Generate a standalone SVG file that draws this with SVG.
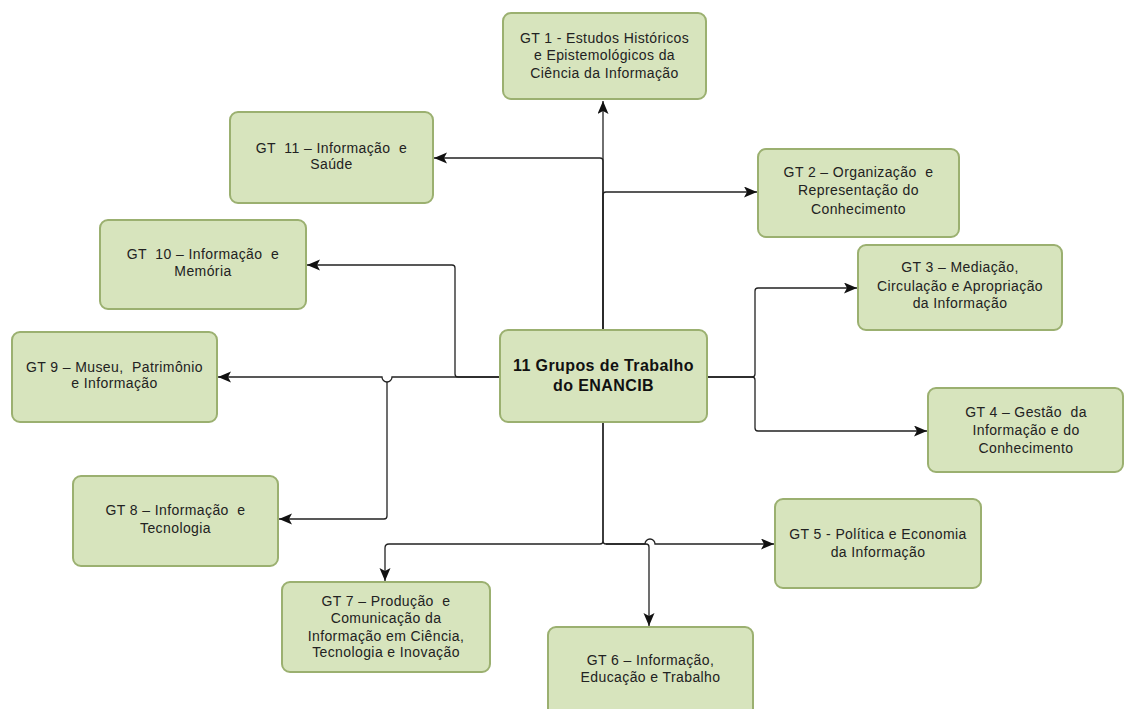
<svg xmlns="http://www.w3.org/2000/svg" width="1124" height="709" viewBox="0 0 1124 709">
<style>
.box{fill:#d7e4bd;stroke:#9bb070;stroke-width:2}
.t{font-family:"Liberation Sans",Arial,sans-serif;font-size:14px;letter-spacing:0.4px;fill:#222;text-anchor:middle;white-space:pre}
.tb{font-family:"Liberation Sans",Arial,sans-serif;font-size:16px;letter-spacing:0.4px;font-weight:bold;fill:#111;text-anchor:middle}
.c{fill:none;stroke:#222;stroke-width:1.3}
</style>
<defs>
<marker id="ah" markerUnits="userSpaceOnUse" markerWidth="14" markerHeight="12" refX="13" refY="5.5" orient="auto">
<path d="M0,0 L13,5.5 L0,11 L3,5.5 z" fill="#111"/>
</marker>
</defs>
<rect width="1124" height="709" fill="#fff"/>
<g id="connectors">
<path class="c" d="M603,330 V101" marker-end="url(#ah)"/>
<path class="c" d="M603,330 V161 q0,-3 -3,-3 H434" marker-end="url(#ah)"/>
<path class="c" d="M603,330 V195 q0,-3 3,-3 H757" marker-end="url(#ah)"/>
<path class="c" d="M500,377 H458 q-3,0 -3,-3 V268 q0,-3 -3,-3 H307" marker-end="url(#ah)"/>
<path class="c" d="M500,377 H392 a5,5 0 0 1 -10,0 H218" marker-end="url(#ah)"/>
<path class="c" d="M387,382 V516 q0,3 -3,3 H279" marker-end="url(#ah)"/>
<path class="c" d="M603,422 V541 q0,3 -3,3 H389 q-4,0 -4,4 V581" marker-end="url(#ah)"/>
<path class="c" d="M603,422 V541 q0,3 3,3 H645 a5,5 0 0 1 10,0 H774" marker-end="url(#ah)"/>
<path class="c" d="M606,544 H646 q3,0 3,3 V626" marker-end="url(#ah)"/>
<path class="c" d="M707,377 H752 q3,0 3,-3 V291 q0,-3 3,-3 H857" marker-end="url(#ah)"/>
<path class="c" d="M707,377 H752 q3,0 3,3 V428 q0,3 3,3 H927" marker-end="url(#ah)"/>
</g>
<g id="center">
<rect class="box" x="500" y="330" width="207" height="92" rx="8"/>
<text class="tb" x="603.5" y="371">11 Grupos de Trabalho</text>
<text class="tb" x="603.5" y="391">do ENANCIB</text>
</g>
<g id="gt1">
<rect class="box" x="503" y="13" width="203" height="86" rx="8"/>
<text class="t" x="604.5" y="43">GT 1 - Estudos Históricos</text>
<text class="t" x="604.5" y="60">e Epistemológicos da</text>
<text class="t" x="604.5" y="78">Ciência da Informação</text>
</g>
<g id="gt2">
<rect class="box" x="758" y="149" width="201" height="88" rx="8"/>
<text class="t" x="858.5" y="177">GT 2 – Organização  e</text>
<text class="t" x="858.5" y="195">Representação do</text>
<text class="t" x="858.5" y="214">Conhecimento</text>
</g>
<g id="gt3">
<rect class="box" x="858" y="245" width="204" height="85" rx="8"/>
<text class="t" x="960" y="272">GT 3 – Mediação,</text>
<text class="t" x="960" y="291">Circulação e Apropriação</text>
<text class="t" x="960" y="308">da Informação</text>
</g>
<g id="gt4">
<rect class="box" x="928" y="388" width="195" height="84" rx="8"/>
<text class="t" x="1026" y="417">GT 4 – Gestão  da</text>
<text class="t" x="1026" y="435">Informação e do</text>
<text class="t" x="1026" y="453">Conhecimento</text>
</g>
<g id="gt5">
<rect class="box" x="775" y="499" width="206" height="89" rx="8"/>
<text class="t" x="878" y="539">GT 5 - Política e Economia</text>
<text class="t" x="878" y="557">da Informação</text>
</g>
<g id="gt6">
<rect class="box" x="548" y="627" width="205" height="90" rx="8"/>
<text class="t" x="650.5" y="665">GT 6 – Informação,</text>
<text class="t" x="650.5" y="682">Educação e Trabalho</text>
</g>
<g id="gt7">
<rect class="box" x="282" y="582" width="208" height="90" rx="8"/>
<text class="t" x="386" y="606">GT 7 – Produção  e</text>
<text class="t" x="386" y="623">Comunicação da</text>
<text class="t" x="386" y="641">Informação em Ciência,</text>
<text class="t" x="386" y="657">Tecnologia e Inovação</text>
</g>
<g id="gt8">
<rect class="box" x="73" y="476" width="205" height="90" rx="8"/>
<text class="t" x="175.5" y="515">GT 8 – Informação  e</text>
<text class="t" x="175.5" y="533">Tecnologia</text>
</g>
<g id="gt9">
<rect class="box" x="12" y="332" width="205" height="90" rx="8"/>
<text class="t" x="114.5" y="372">GT 9 – Museu,  Patrimônio</text>
<text class="t" x="114.5" y="388">e Informação</text>
</g>
<g id="gt10">
<rect class="box" x="100" y="220" width="206" height="89" rx="8"/>
<text class="t" x="203" y="259">GT  10 – Informação  e</text>
<text class="t" x="203" y="276">Memória</text>
</g>
<g id="gt11">
<rect class="box" x="230" y="112" width="203" height="91" rx="8"/>
<text class="t" x="331.5" y="153">GT  11 – Informação  e</text>
<text class="t" x="331.5" y="169">Saúde</text>
</g>
</svg>
